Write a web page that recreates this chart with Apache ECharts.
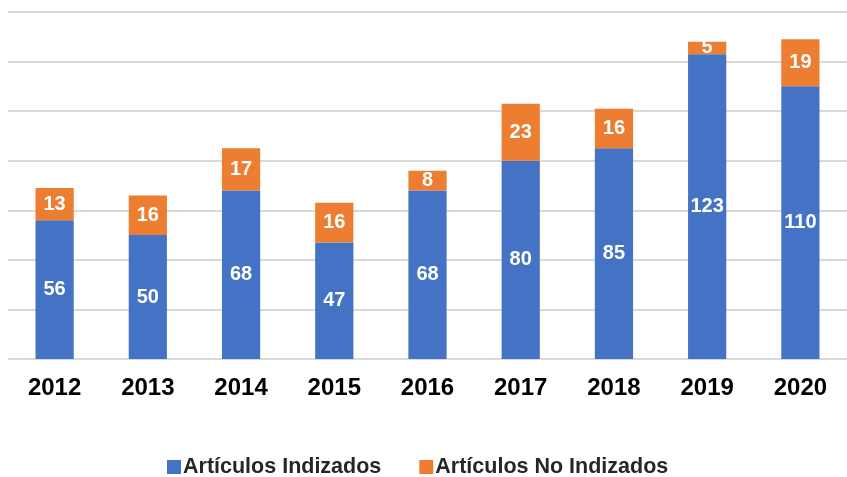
<!DOCTYPE html>
<html>
<head>
<meta charset="utf-8">
<script src="https://cdn.jsdelivr.net/npm/echarts@6/dist/echarts.min.js"></script>
<style>html,body{margin:0;padding:0;background:#fff}#c{width:847px;height:477px}</style>
</head>
<body>
<div id="c"></div>
<script>
const years = ['2012','2013','2014','2015','2016','2017','2018','2019','2020'];
const indizados = [56, 50, 68, 47, 68, 80, 85, 123, 110];
const noIndizados = [13, 16, 17, 16, 8, 23, 16, 5, 19];
const seriesNames = ['Artículos Indizados', 'Artículos No Indizados'];

const FF = '"Liberation Sans", Arial, sans-serif';
const chart = echarts.init(document.getElementById('c'));
const lbl = {show: true, position: 'inside', color: '#fff', fontWeight: 'bold', fontSize: 20, fontFamily: FF};
chart.setOption({
  animation: false,
  grid: {left: 8, right: 0, top: 12, bottom: 118},
  xAxis: {
    type: 'category', data: years,
    axisLine: {show: false}, axisTick: {show: false},
    axisLabel: {color: '#000', fontWeight: 'bold', fontSize: 24, margin: 17, fontFamily: FF}
  },
  yAxis: {
    type: 'value', min: 0, max: 140, interval: 20,
    axisLabel: {show: false}, axisLine: {show: false}, axisTick: {show: false},
    splitLine: {lineStyle: {color: '#d9d9d9', width: 2}}
  },
  legend: {
    bottom: -6, left: 162, itemWidth: 14, itemHeight: 14, itemGap: 38,
    icon: 'rect',
    textStyle: {color: '#262626', fontSize: 21.5, fontWeight: 'bold', fontFamily: FF, padding: [0, 0, 0, -3]},
    data: seriesNames
  },
  series: [
    {name: seriesNames[0], type: 'bar', stack: 't', data: indizados, barWidth: '41%', itemStyle: {color: '#4472C4'}, label: lbl},
    {name: seriesNames[1], type: 'bar', stack: 't', data: noIndizados, barWidth: '41%', itemStyle: {color: '#ED7D31'}, label: lbl}
  ]
});
</script>
</body>
</html>
